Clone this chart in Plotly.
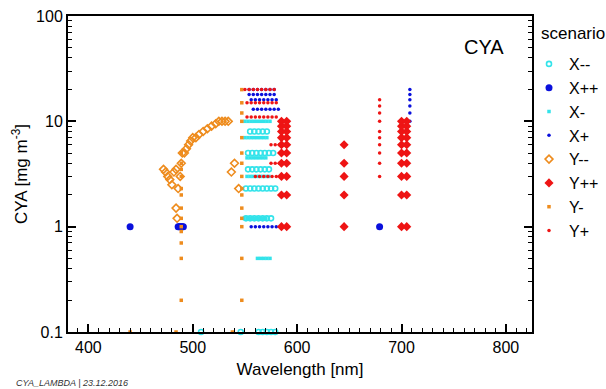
import plotly.graph_objects as go

# ---- data (wavelength nm, CYA mg m-3) ----
xmm_wl = [508, 546, 563, 567, 571, 575, 579,
          551, 555, 559, 563, 567, 571, 575,
          551, 555, 559, 563, 567, 571, 575, 579,
          553, 557, 561, 565, 569, 573,
          553, 557, 561, 565, 569, 573, 577,
          555, 559, 563, 567, 571]
xmm_cya = [0.1, 0.1, 0.1, 0.1, 0.1, 0.1, 0.1,
           1.2, 1.2, 1.2, 1.2, 1.2, 1.2, 1.2,
           2.3, 2.3, 2.3, 2.3, 2.3, 2.3, 2.3, 2.3,
           3.5, 3.5, 3.5, 3.5, 3.5, 3.5,
           5, 5, 5, 5, 5, 5, 5,
           8, 8, 8, 8, 8]

xpp_wl = [440, 486, 487, 488, 489, 490, 491, 679]
xpp_cya = [1, 1, 1, 1, 1, 1, 1, 1]

xm_wl = [562, 565, 568, 571, 574,
         549, 552, 555, 558, 561, 564, 567, 570,
         552, 555, 558, 561, 564, 567, 570, 573,
         552, 555, 558, 561, 564, 567, 570,
         550, 553, 556, 559, 562, 565, 568, 571,
         550, 553, 556, 559, 562, 565, 568, 571, 574]
xm_cya = [0.5, 0.5, 0.5, 0.5, 0.5,
          1.2, 1.2, 1.2, 1.2, 1.2, 1.2, 1.2, 1.2,
          3, 3, 3, 3, 3, 3, 3, 3,
          4.5, 4.5, 4.5, 4.5, 4.5, 4.5, 4.5,
          7, 7, 7, 7, 7, 7, 7, 7,
          10, 10, 10, 10, 10, 10, 10, 10, 10]

xp_wl = [554, 558, 562, 566, 570, 574, 578,
         554, 558, 562, 566, 570, 574, 578,
         556, 560, 564, 568, 572, 576, 580,
         556, 560, 564, 568, 572, 576, 580,
         558, 562, 566, 570, 574, 578, 582,
         708, 708, 708, 708, 708, 708]
xp_cya = [20, 20, 20, 20, 20, 20, 20,
          18, 18, 18, 18, 18, 18, 18,
          16, 16, 16, 16, 16, 16, 16,
          1, 1, 1, 1, 1, 1, 1,
          13, 13, 13, 13, 13, 13, 13,
          10, 12, 14, 16, 18, 20]

ymm_wl = [472, 474, 476, 478, 480, 482, 484, 485, 484, 486,
          488, 489, 490, 492, 494, 496, 498, 500, 503, 506,
          510, 514, 518, 522, 525, 528, 531, 534, 537, 540, 544]
ymm_cya = [3.5, 3.3, 3, 2.8, 2.5, 3.3, 3.5, 1.2, 1.5, 2.3,
           3, 4, 5, 5, 5.5, 6, 6.5, 7, 7, 7.5,
           8, 8.5, 9, 9.5, 10, 10, 10, 10, 3.3, 4, 2.3]

ypp_wl = [585, 585, 585, 585, 585, 585, 585, 585, 585, 585,
          590, 590, 590, 590, 590, 590, 590, 590, 590, 590,
          645, 645, 645, 645, 645,
          700, 700, 700, 700, 700, 700, 700, 700, 700, 700,
          705, 705, 705, 705, 705, 705, 705, 705, 705, 705]
ypp_cya = [1, 2, 3, 4, 5, 6, 7, 8, 9, 10,
           1, 2, 3, 4, 5, 6, 7, 8, 9, 10,
           1, 2, 3, 4, 6,
           1, 2, 3, 4, 5, 6, 7, 8, 9, 10,
           1, 2, 3, 4, 5, 6, 7, 8, 9, 10]

ym_wl = [440, 484, 538,
         489, 489, 489, 489, 489, 489, 489, 489, 489, 489, 489, 489, 489,
         547, 547, 547, 547, 547, 547, 547, 547, 547, 547, 547, 547, 547, 547, 547]
ym_cya = [0.1, 0.1, 0.1,
          0.2, 0.5, 0.7, 0.9, 1, 1.2, 1.5, 2, 2.3, 3, 3.5, 4, 5,
          0.2, 0.5, 1, 1.2, 1.5, 2, 2.3, 3, 4, 5, 7, 10, 12, 15, 20]

yp_wl = [550, 554, 558, 562, 566, 570, 574, 578,
         552, 556, 560, 564, 568, 572, 576, 580,
         552, 556, 560, 564, 568, 572, 576, 580,
         575, 579, 583, 587, 575, 579, 583, 587,
         560, 564, 568, 572, 576, 580, 584,
         679, 679, 679, 679, 679, 679, 679, 679, 679, 679]
yp_cya = [20, 20, 20, 20, 20, 20, 20, 20,
          15, 15, 15, 15, 15, 15, 15, 15,
          11, 11, 11, 11, 11, 11, 11, 11,
          6, 6, 6, 6, 4, 4, 4, 4,
          3, 3, 3, 3, 3, 3, 3,
          3, 4, 5, 6, 7, 8, 10, 12, 14, 16]

CYAN = "#33e3ea"
BLUE = "#0a10dc"
ORANGE = "#ee8c1e"
RED = "#ee1414"

series = [
    ("X--", xmm_wl, xmm_cya, dict(symbol="circle-open", size=5, color=CYAN, line=dict(width=1.6, color=CYAN))),
    ("X++", xpp_wl, xpp_cya, dict(symbol="circle", size=7, color=BLUE)),
    ("X-", xm_wl, xm_cya, dict(symbol="square", size=3.5, color=CYAN)),
    ("X+", xp_wl, xp_cya, dict(symbol="circle", size=3.5, color=BLUE)),
    ("Y--", ymm_wl, ymm_cya, dict(symbol="diamond-open", size=6, color=ORANGE, line=dict(width=1.6, color=ORANGE))),
    ("Y++", ypp_wl, ypp_cya, dict(symbol="diamond", size=7, color=RED)),
    ("Y-", ym_wl, ym_cya, dict(symbol="square", size=3.5, color=ORANGE)),
    ("Y+", yp_wl, yp_cya, dict(symbol="circle", size=3.5, color=RED)),
]

fig = go.Figure()
for name, xs, ys, mk in series:
    fig.add_trace(go.Scatter(x=xs, y=ys, mode="markers", name=name, marker=mk, cliponaxis=False))

W, H = 606, 389
L, R, T, B = 68, 74, 16, 57
PW, PH = W - L - R, H - T - B

fig.update_layout(
    template="none",
    width=W, height=H,
    margin=dict(l=L, r=R, t=T, b=B, autoexpand=False),
    plot_bgcolor="white", paper_bgcolor="white",
    font=dict(family="Liberation Sans, Arial, sans-serif", size=15, color="black"),
    showlegend=True,
    legend=dict(x=(529 - L) / PW, y=1 - 31 / PH,
                xanchor="left", yanchor="top", font=dict(size=16), itemsizing="trace", itemwidth=30,
                tracegroupgap=0, bgcolor="rgba(0,0,0,0)", borderwidth=0),
    annotations=[
        dict(text="scenario", x=(539 - L) / PW, y=1 - 6 / PH, xref="paper", yref="paper",
             xanchor="left", yanchor="top", showarrow=False, font=dict(size=17)),
        dict(text="CYA", x=1 - 26 / PW, y=1 - 18 / PH, xref="paper", yref="paper",
             xanchor="right", yanchor="top", showarrow=False, font=dict(size=20)),
        dict(text="<i>CYA_LAMBDA | 23.12.2016</i>", x=-(L - 14) / PW, y=-(383 - (T + PH)) / PH,
             xref="paper", yref="paper", xanchor="left", yanchor="middle",
             showarrow=False, font=dict(size=9, color="#333333")),
    ],
)

fig.update_xaxes(range=[380.5, 825], showline=True, linewidth=2, linecolor="black", mirror=True,
                 automargin=False,
                 ticks="inside", ticklen=8, tickwidth=2, tickcolor="black", tickvals=[400, 500, 600, 700, 800],
                 minor=dict(ticks="inside", ticklen=4, dtick=10, tickcolor="black", tickwidth=1, showgrid=False),
                 showgrid=False, zeroline=False, tickfont=dict(size=16),
                 title=dict(text="Wavelength [nm]", font=dict(size=17), standoff=8))
fig.update_yaxes(type="log", range=[-1, 2], showline=True, linewidth=2, linecolor="black", mirror="ticks",
                 automargin=False, ticklabeloverflow="allow",
                 ticks="inside", ticklen=8, tickwidth=2, tickcolor="black",
                 tickvals=[0.1, 1, 10, 100], ticktext=["0.1", "1", "10", "100"],
                 minor=dict(ticks="inside", ticklen=4,
                            tickvals=[0.2, 0.3, 0.4, 0.5, 0.6, 0.7, 0.8, 0.9, 2, 3, 4, 5, 6, 7, 8, 9,
                                      20, 30, 40, 50, 60, 70, 80, 90],
                            tickcolor="black", tickwidth=1, showgrid=False),
                 showgrid=False, zeroline=False, tickfont=dict(size=16),
                 title=dict(text="CYA [mg m<sup>-3</sup>]", font=dict(size=17), standoff=4))

# remove the browser's default 8px body margin so the 606x389 figure fills the window exactly
fig.write_html("out.html", config={"displayModeBar": False},
               post_script="document.body.style.margin='0';document.body.style.overflow='hidden';")
